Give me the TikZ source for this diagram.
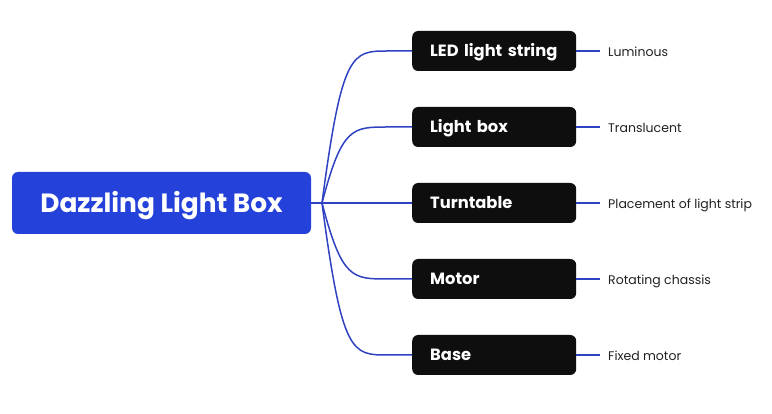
\documentclass[tikz,border=0pt]{standalone}
\usepackage{fontspec}
\setmainfont{Poppins}
\usepackage{tikz}
\usetikzlibrary{positioning,calc}
\definecolor{rootblue}{HTML}{2442D9}
\definecolor{linkblue}{HTML}{2F43C2}
\definecolor{boxblack}{HTML}{0E0E0E}
\definecolor{leaftext}{HTML}{222222}

\begin{document}
\begin{tikzpicture}[x=1pt,y=-1pt,
    rootbox/.style={fill=rootblue,rounded corners=6pt,text=white,
      font=\fontsize{26.4}{30}\selectfont\bfseries,
      text height=18.5pt,text depth=0pt,
      minimum width=299pt,minimum height=62pt,inner sep=0pt},
    subbox/.style={fill=boxblack,rounded corners=6pt,text=white,
      font=\fontsize{16.3}{19}\selectfont\bfseries,anchor=west,
      text height=11.4pt,text depth=0pt,
      minimum width=164pt,minimum height=40pt,text width=128pt,
      align=left,inner xsep=18pt,inner ysep=0pt},
    leaf/.style={anchor=west,text=leaftext,inner sep=0pt,
      font=\fontsize{12.5}{15}\selectfont,
      text height=8.8pt,text depth=0pt},
    link/.style={draw=linkblue,line width=1.5pt}]
  \useasboundingbox (0,0) rectangle (772,414);
  \fill[white] (0,0) rectangle (772,414);

  \node[rootbox] (root) at (161.5,203) {Dazzling Light Box};
  \coordinate (hub) at (322,203);

  \node[subbox] (led)   at (412,51)  {LED light string};
  \node[subbox] (lbox)  at (412,127) {Light box};
  \node[subbox] (turn)  at (412,203) {Turntable};
  \node[subbox] (motor) at (412,279) {Motor};
  \node[subbox] (base)  at (412,355) {Base};

  \node[leaf] (ledL)   at (608,52)  {Luminous};
  \node[leaf] (lboxL)  at (608,128) {Translucent};
  \node[leaf] (turnL)  at (608,204) {Placement of light strip};
  \node[leaf] (motorL) at (608,280) {Rotating chassis};
  \node[leaf] (baseL)  at (608,356) {Fixed motor};

  % root to hub
  \draw[link] (root.east) -- (hub);
  % hub to the five parts
  \draw[link] (hub) .. controls (342,51) and (352,51) .. (388,51) -- (led.west);
  \draw[link] (hub) .. controls (342,127) and (352,127) .. (388,127) -- (lbox.west);
  \draw[link] (hub) -- (turn.west);
  \draw[link] (hub) .. controls (342,279) and (352,279) .. (388,279) -- (motor.west);
  \draw[link] (hub) .. controls (342,355) and (352,355) .. (388,355) -- (base.west);
  % parts to their notes
  \draw[link] (led.east)   -- ($(led.east)+(24,0)$);
  \draw[link] (lbox.east)  -- ($(lbox.east)+(24,0)$);
  \draw[link] (turn.east)  -- ($(turn.east)+(24,0)$);
  \draw[link] (motor.east) -- ($(motor.east)+(24,0)$);
  \draw[link] (base.east)  -- ($(base.east)+(24,0)$);
\end{tikzpicture}
\end{document}
